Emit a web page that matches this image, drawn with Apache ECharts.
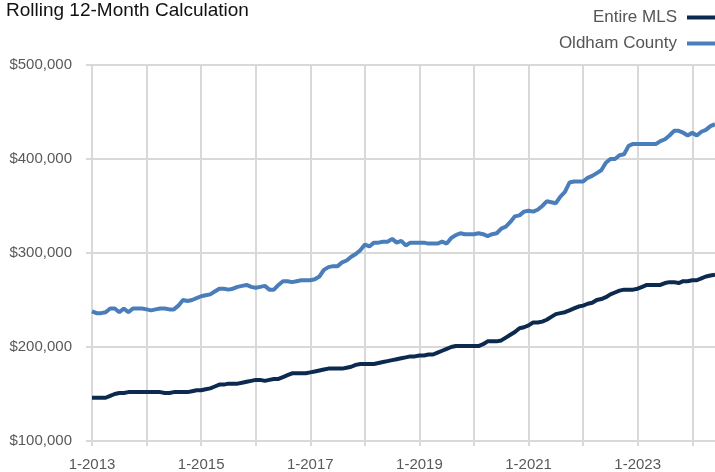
<!DOCTYPE html>
<html>
<head>
<meta charset="utf-8">
<script src="https://cdn.jsdelivr.net/npm/echarts@6/dist/echarts.min.js"></script>
<style>
  html, body { margin: 0; padding: 0; background: #fff; }
  #main { width: 715px; height: 472px; }
</style>
</head>
<body>
<div id="main"></div>
<script>
// monthly values, 1-2013 .. 6-2024, in thousands of dollars
var startYear = 2013;
var monthCount = 138;

var entireMls = [
    146, 146, 146, 146, 148, 150, 151, 151, 152, 152, 152, 152,
    152, 152, 152, 152, 151, 151, 152, 152, 152, 152, 153, 154,
    154, 155, 156, 158, 160, 160, 161, 161, 161, 162, 163, 164,
    165, 165, 164, 165, 166, 166, 168, 170, 172, 172, 172, 172,
    173, 174, 175, 176, 177, 177, 177, 177, 178, 179, 181, 182,
    182, 182, 182, 183, 184, 185, 186, 187, 188, 189, 190, 190,
    191, 191, 192, 192, 194, 196, 198, 200, 201, 201, 201, 201,
    201, 201, 203, 206, 206, 206, 207, 210, 213, 216, 220, 221,
    223, 226, 226, 227, 229, 232, 235, 236, 237, 239, 241, 243,
    244, 246, 247, 250, 251, 253, 256, 258, 260, 261, 261, 261,
    262, 264, 266, 266, 266, 266, 268, 269, 269, 268, 270, 270,
    271, 271, 273, 275, 276, 277
];

var oldhamCounty = [
    238, 236, 236, 237, 241, 241, 237, 241, 237, 241, 241, 241,
    240, 239, 240, 241, 241, 240, 240, 244, 250, 249, 250, 252,
    254, 255, 256, 259, 262, 262, 261, 262, 264, 265, 266, 264,
    263, 264, 265, 261, 261, 266, 270, 270, 269, 270, 271, 271,
    271, 272, 275, 282, 285, 286, 286, 290, 292, 296, 299, 303,
    309, 307, 311, 311, 312, 312, 315, 311, 313, 308, 311, 311,
    311, 311, 310, 310, 310, 312, 310, 316, 319, 321, 320, 320,
    320, 321, 320, 318, 320, 321, 326, 328, 333, 339, 340, 344,
    345, 344, 346, 350, 355, 354, 353, 360, 365, 375, 376, 376,
    376, 380, 382, 385, 388, 396, 400, 400, 404, 405, 414, 416,
    416, 416, 416, 416, 416, 419, 421, 425, 430, 430, 428, 425,
    428, 425, 429, 431, 435, 437
];

var months = [];
for (var i = 0; i < monthCount; i++) {
    months.push((i % 12 + 1) + '-' + (startYear + Math.floor(i / 12)));
}

function toDollars(list) {
    return list.map(function(v) { return v * 1000; });
}

var fontName = '"Liberation Sans", Arial, sans-serif';
var gridColor = '#d9d9d9';

var myChart = echarts.init(document.getElementById('main'));
myChart.setOption({
    animation: false,
    title: {
        text: 'Rolling 12-Month Calculation',
        left: 2,
        top: 1,
        padding: [0, 0, 0, 4],
        textStyle: {
            fontFamily: fontName,
            fontSize: 19,
            fontWeight: 'normal',
            color: '#111'
        }
    },
    legend: {
        orient: 'vertical',
        right: 0,
        top: 9,
        padding: 0,
        align: 'right',
        itemWidth: 28,
        itemHeight: 4,
        itemGap: 9,
        icon: 'rect',
        textStyle: {
            fontFamily: fontName,
            fontSize: 17,
            color: '#555',
            padding: [0, 5, 0, 0]
        },
        data: ['Entire MLS', 'Oldham County']
    },
    grid: {
        left: 92,
        right: 0,
        top: 65,
        bottom: 31
    },
    xAxis: {
        type: 'category',
        data: months,
        boundaryGap: false,
        axisLine: { lineStyle: { color: gridColor, width: 2 } },
        axisTick: {
            interval: 11,
            length: 5,
            lineStyle: { color: gridColor, width: 2 }
        },
        splitLine: {
            show: true,
            interval: 11,
            lineStyle: { color: gridColor, width: 2 }
        },
        axisLabel: {
            interval: 23,
            margin: 16,
            fontFamily: fontName,
            fontSize: 15,
            color: '#595959'
        }
    },
    yAxis: {
        type: 'value',
        min: 100000,
        max: 500000,
        interval: 100000,
        axisLine: { show: false },
        axisTick: {
            show: true,
            length: 6,
            lineStyle: { color: gridColor, width: 2 }
        },
        splitLine: { lineStyle: { color: gridColor, width: 2 } },
        axisLabel: {
            margin: 20,
            fontFamily: fontName,
            fontSize: 15,
            color: '#595959',
            formatter: function(v) {
                return '$' + String(v).replace(/\B(?=(\d{3})+(?!\d))/g, ',');
            }
        }
    },
    series: [
        {
            name: 'Entire MLS',
            type: 'line',
            data: toDollars(entireMls),
            showSymbol: false,
            color: '#0c2a50',
            lineStyle: { width: 4 }
        },
        {
            name: 'Oldham County',
            type: 'line',
            data: toDollars(oldhamCounty),
            showSymbol: false,
            color: '#4a7ebb',
            lineStyle: { width: 4 }
        }
    ]
});
</script>
</body>
</html>
